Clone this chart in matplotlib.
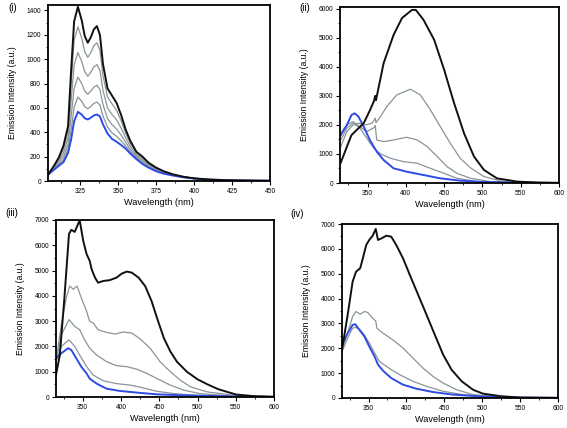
import matplotlib
matplotlib.use("Agg")
import matplotlib.pyplot as plt
from matplotlib.ticker import MultipleLocator

plt.rcParams['font.family'] = ['Liberation Sans', 'DejaVu Sans']

# ---------------- Panel (i) ----------------
wl_i = [304, 308, 311, 314, 317, 319, 321, 323.5, 326, 328, 330, 332, 334, 336, 338, 340,
        343, 346, 349, 352, 355, 358, 362, 366, 370, 375, 380, 386, 393, 400, 410, 425, 450]
i_black = [55, 130, 195, 290, 450, 900, 1310, 1430, 1320, 1190, 1135, 1180, 1245, 1272, 1200, 960,
           760, 700, 640, 540, 420, 330, 240, 200, 150, 110, 80, 55, 35, 22, 12, 5, 2]
i_gray1 = [55, 124, 182, 264, 408, 794, 1154, 1266, 1173, 1062, 1015, 1055, 1111, 1134, 1073, 866,
           690, 633, 580, 493, 391, 310, 230, 189, 142, 104, 76, 53, 34, 22, 12, 5, 2]
i_gray2 = [55, 115, 165, 231, 354, 656, 953, 1055, 982, 897, 860, 893, 937, 955, 908, 745,
           599, 546, 502, 433, 353, 284, 216, 174, 133, 97, 71, 51, 33, 21, 12, 5, 2]
i_gray3 = [55, 107, 148, 200, 303, 525, 761, 853, 801, 738, 713, 738, 771, 786, 751, 628,
           512, 462, 427, 376, 316, 260, 203, 160, 124, 90, 67, 48, 32, 21, 11, 5, 2]
i_gray4 = [55, 100, 135, 174, 261, 418, 605, 689, 654, 610, 593, 612, 637, 648, 624, 534,
           442, 395, 367, 329, 287, 240, 193, 148, 116, 84, 63, 46, 31, 20, 11, 5, 2]
i_blue = [55, 95, 125, 155, 230, 340, 490, 568, 545, 515, 505, 520, 538, 546, 530, 465,
          390, 345, 322, 295, 265, 225, 180, 140, 110, 80, 60, 45, 30, 20, 11, 5, 2]

# ---------------- Panel (ii) ----------------
ii_black_x = [315, 323, 329, 336, 345, 353, 358, 360, 361, 371, 384, 395, 408, 413, 423, 437, 450,
              463, 476, 489, 502, 519, 546, 575, 600]
ii_black_y = [700, 1250, 1650, 1830, 2060, 2500, 2800, 3000, 2850, 4130, 5100, 5680, 5960, 5960, 5620,
              4930, 3900, 2750, 1710, 910, 450, 160, 46, 15, 5]
ii_g1_x = [315, 323, 331, 338, 347, 356, 360, 361, 367, 375, 388, 406, 419, 432, 445, 458, 471, 485,
           502, 524, 555, 600]
ii_g1_y = [1250, 1770, 2000, 2060, 2000, 2060, 2230, 2080, 2290, 2630, 3030, 3230, 3030, 2520, 1940,
           1370, 850, 510, 220, 70, 10, 3]
ii_g2_x = [315, 323, 331, 340, 349, 358, 360, 362, 371, 384, 401, 415, 428, 441, 454, 467, 485, 511,
           546, 600]
ii_g2_y = [1710, 2000, 2115, 1940, 1770, 1900, 1980, 1480, 1425, 1480, 1575, 1480, 1250, 910, 560,
           330, 160, 46, 10, 3]
ii_g3_x = [315, 323, 331, 340, 349, 358, 367, 380, 397, 415, 432, 450, 467, 494, 524, 600]
ii_g3_y = [1480, 1890, 2060, 1890, 1540, 1200, 1000, 850, 735, 680, 505, 330, 160, 46, 10, 2]
ii_blue_x = [315, 323, 329, 333, 338, 345, 353, 362, 371, 384, 401, 423, 445, 471, 502, 546, 600]
ii_blue_y = [1650, 2000, 2340, 2400, 2290, 1940, 1480, 1080, 790, 505, 390, 275, 160, 80, 35, 10, 2]

# ---------------- Panel (iii) ----------------
iii_black_x = [315, 320, 326, 332, 335, 339.5, 344, 346, 350.5, 355, 359, 361.5, 366, 370, 377, 385,
               394, 401, 407.5, 414, 423, 431.5, 440, 447, 456, 464.5, 473, 486, 500, 513, 527,
               550, 575, 600]
iii_black_y = [870, 1660, 3930, 6450, 6610, 6530, 6850, 6985, 6190, 5650, 5390, 5060, 4720, 4520,
               4590, 4620, 4720, 4880, 4960, 4920, 4720, 4390, 3790, 3130, 2330, 1800, 1400, 1000,
               700, 500, 310, 100, 30, 10]
iii_g1_x = [315, 322, 328.5, 333, 337.5, 342.5, 348, 355, 359, 363.5, 370, 379, 392, 403, 414, 425,
            438, 451, 464.5, 477.5, 491, 513, 550, 600]
iii_g1_y = [1400, 2860, 3930, 4390, 4260, 4390, 3930, 3390, 2990, 2930, 2660, 2570, 2490, 2570, 2530,
            2300, 1930, 1400, 1000, 665, 400, 200, 60, 10]
iii_g2_x = [315, 322, 332, 339.5, 346, 352.5, 359, 368, 381, 394, 407.5, 420.5, 434, 447, 464.5, 482,
            504, 550, 600]
iii_g2_y = [1400, 2460, 3060, 2790, 2660, 2260, 1930, 1660, 1400, 1240, 1200, 1100, 930, 730, 470,
            270, 130, 30, 5]
iii_g3_x = [315, 322, 332, 339.5, 346, 355, 363.5, 377, 394, 412, 429, 447, 469, 500, 550, 600]
iii_g3_y = [1400, 2000, 2260, 2000, 1660, 1200, 870, 640, 530, 470, 360, 225, 135, 65, 15, 5]
iii_blue_x = [315, 322, 331, 335, 341.5, 348, 355, 359, 368, 381, 398.5, 420.5, 447, 482, 550, 600]
iii_blue_y = [1530, 1730, 1930, 1860, 1530, 1200, 930, 730, 530, 330, 240, 175, 105, 65, 20, 5]

# ---------------- Panel (iv) ----------------
iv_black_x = [315, 322.5, 329, 333.5, 339, 342.5, 347, 351, 355.5, 359.5, 362.5, 367, 373.5, 380,
              386.5, 395.5, 404.5, 415.5, 426.5, 437.5, 448.5, 459.5, 473, 488, 501, 525, 550, 600]
iv_black_y = [1940, 3350, 4680, 5080, 5220, 5620, 6160, 6360, 6530, 6800, 6360, 6420, 6530, 6490,
              6160, 5620, 4950, 4150, 3350, 2540, 1740, 1140, 670, 330, 175, 70, 20, 5]
iv_g1_x = [315, 322.5, 329, 333.5, 339, 344.5, 349, 355.5, 359.5, 361, 369, 382, 395.5, 408.5, 422,
           435, 448.5, 466, 488, 525, 550, 600]
iv_g1_y = [1940, 2610, 3280, 3480, 3370, 3480, 3440, 3210, 3100, 2810, 2610, 2340, 2010, 1610, 1200,
           870, 600, 335, 135, 40, 15, 5]
iv_g2_x = [315, 322.5, 329, 333.5, 339, 344.5, 351, 358, 364.5, 378, 391, 408.5, 426.5, 448.5, 475,
           525, 550, 600]
iv_g2_y = [1870, 2410, 2810, 2840, 2740, 2540, 2210, 1810, 1470, 1180, 940, 670, 470, 270, 135, 30,
           10, 3]
iv_blue_x = [315, 322.5, 329, 332.5, 338, 344.5, 351, 358, 362.5, 369, 380, 395.5, 413, 435, 461.5,
             497, 550, 600]
iv_blue_y = [2140, 2610, 2940, 2970, 2740, 2480, 2070, 1670, 1340, 1100, 800, 535, 375, 240, 135, 65,
             15, 5]

BLACK = '#111111'
GRAY = '#8a9599'
BLUE = '#2f4be6'

fig = plt.figure(figsize=(5.67, 4.28), dpi=100)
W, H = 567.0, 428.0


def make_ax(left, top, right, bottom):
    return fig.add_axes([left / W, 1 - bottom / H, (right - left) / W, (bottom - top) / H])


def style(ax, xlim, ylim, xmaj, xmin, ymaj, ymin):
    ax.set_xlim(*xlim)
    ax.set_ylim(*ylim)
    ax.xaxis.set_major_locator(MultipleLocator(xmaj))
    ax.xaxis.set_minor_locator(MultipleLocator(xmin))
    ax.yaxis.set_major_locator(MultipleLocator(ymaj))
    ax.yaxis.set_minor_locator(MultipleLocator(ymin))
    for s in ax.spines.values():
        s.set_linewidth(1.3)
    ax.tick_params(which='major', direction='out', length=3, width=0.8, labelsize=4.8, pad=2)
    ax.tick_params(which='minor', direction='out', length=1.6, width=0.6)
    ax.set_xlabel('Wavelength (nm)', fontsize=6.6, labelpad=2)
    ax.set_ylabel('Emission Intensity (a.u.)', fontsize=6.2, labelpad=7)


# (i)
ax1 = make_ax(48, 5, 270, 181)
for y, c, lw in [(i_gray4, GRAY, 0.9), (i_gray3, GRAY, 0.9), (i_gray2, GRAY, 0.9),
                 (i_gray1, GRAY, 0.9), (i_blue, BLUE, 1.4), (i_black, BLACK, 1.4)]:
    ax1.plot(wl_i, y, color=c, lw=lw)
style(ax1, (303.8, 450), (0, 1445), 25, 12.5, 200, 100)
ax1.set_xticks([325, 350, 375, 400, 425, 450])

# (ii)
ax2 = make_ax(340, 7, 559, 183)
ax2.plot(ii_g3_x, ii_g3_y, color=GRAY, lw=0.9)
ax2.plot(ii_g2_x, ii_g2_y, color=GRAY, lw=0.9)
ax2.plot(ii_g1_x, ii_g1_y, color=GRAY, lw=0.9)
ax2.plot(ii_blue_x, ii_blue_y, color=BLUE, lw=1.4)
ax2.plot(ii_black_x, ii_black_y, color=BLACK, lw=1.4)
style(ax2, (314, 600), (0, 6060), 50, 25, 1000, 500)

# (iii)
ax3 = make_ax(56, 220, 274, 397)
ax3.plot(iii_g3_x, iii_g3_y, color=GRAY, lw=0.9)
ax3.plot(iii_g2_x, iii_g2_y, color=GRAY, lw=0.9)
ax3.plot(iii_g1_x, iii_g1_y, color=GRAY, lw=0.9)
ax3.plot(iii_blue_x, iii_blue_y, color=BLUE, lw=1.4)
ax3.plot(iii_black_x, iii_black_y, color=BLACK, lw=1.4)
style(ax3, (315, 600), (0, 7000), 50, 25, 1000, 500)

# (iv)
ax4 = make_ax(342, 224, 558, 398)
ax4.plot(iv_g2_x, iv_g2_y, color=GRAY, lw=0.9)
ax4.plot(iv_g1_x, iv_g1_y, color=GRAY, lw=0.9)
ax4.plot(iv_blue_x, iv_blue_y, color=BLUE, lw=1.4)
ax4.plot(iv_black_x, iv_black_y, color=BLACK, lw=1.4)
style(ax4, (315, 600), (0, 7000), 50, 25, 1000, 500)

# panel labels
fig.text(8 / W, 1 - 8 / H, '(i)', fontsize=7, va='center', ha='left')
fig.text(299 / W, 1 - 8 / H, '(ii)', fontsize=7, va='center', ha='left')
fig.text(5 / W, 1 - 213 / H, '(iii)', fontsize=7, va='center', ha='left')
fig.text(290 / W, 1 - 214 / H, '(iv)', fontsize=7, va='center', ha='left')

fig.savefig('out.png', dpi=100)
